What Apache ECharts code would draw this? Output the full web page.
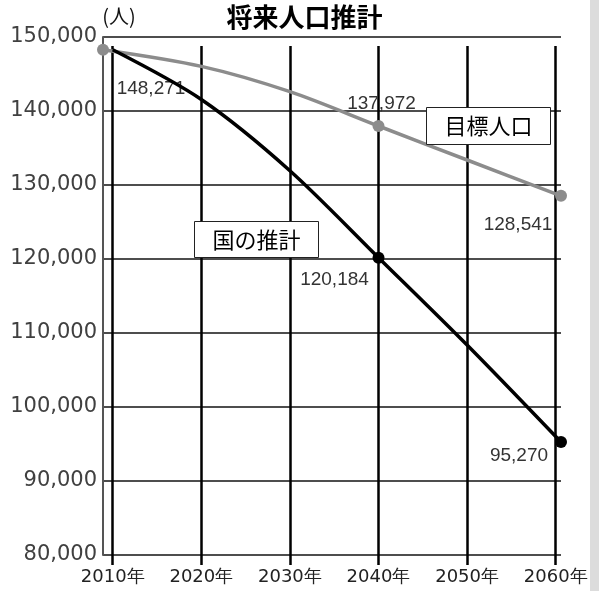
<!DOCTYPE html>
<html>
<head>
<meta charset="utf-8">
<script src="https://cdn.jsdelivr.net/npm/echarts@6/dist/echarts.min.js"></script>
<style>html,body{margin:0;padding:0;background:#fff}#c{width:599px;height:591px}</style>
</head>
<body>
<div id="c"></div>
<script>
const years = [2010, 2020, 2030, 2040, 2050, 2060];
const nationalX = [2010, 2020, 2030, 2040, 2050, 2060.6];
const nationalY = [148271, 141554, 131932, 120184, 108378, 95270];
const targetX = [2008.9, 2020, 2030, 2040, 2050, 2060.6];
const targetY = [148271, 146027, 142608, 137972, 133378, 128541];
const nationalMarked = [3, 5];
const targetMarked = [0, 3, 5];
const nationalLabels = {3: [-44, 22], 5: [-42, 14]};
const targetLabels = {0: [48, 39], 3: [3, -22], 5: [-43, 29]};
const titleText = '将来人口推計';
const unitText = '(人)';
const nationalName = '国の推計';
const targetName = '目標人口';

const fmt = v => v.toLocaleString('en-US');
const labelStyle = {fontFamily: 'Liberation Sans', fontSize: 19, color: '#333'};

function build(xs, ys, marked, labels) {
  return xs.map((x, i) => {
    const item = {value: [x, ys[i]]};
    if (!marked.includes(i)) item.symbol = 'none';
    if (labels[i]) {
      item.label = Object.assign({show: true, position: 'inside', offset: labels[i], formatter: p => fmt(p.value[1])}, labelStyle);
    }
    return item;
  });
}

const chart = echarts.init(document.getElementById('c'));
chart.setOption({
  animation: false,
  backgroundColor: '#fff',
  grid: {left: 103, right: 38, top: 37, bottom: 36},
  xAxis: [{
    type: 'value', min: 2008.9, max: 2060.6,
    axisLine: {show: false},
    splitLine: {show: false},
    axisLabel: {show: false},
    axisTick: {show: true, inside: true, length: 509, customValues: years, lineStyle: {color: '#000', width: 2.5}}
  }, {
    type: 'value', min: 2008.9, max: 2060.6, position: 'bottom',
    axisLine: {show: false},
    splitLine: {show: false},
    axisTick: {show: true, inside: false, length: 10, customValues: years, lineStyle: {color: '#000', width: 2.5}},
    axisLabel: {show: true, customValues: years, margin: 13, formatter: v => v + '年', fontFamily: 'DejaVu Sans', fontSize: 18, color: '#222'}
  }],
  yAxis: {
    type: 'value', min: 80000, max: 150000, interval: 10000,
    axisLine: {show: true, lineStyle: {color: '#555', width: 2}},
    axisTick: {show: false},
    splitLine: {show: true, lineStyle: {color: '#4d4d4d', width: 2}},
    axisLabel: {margin: 6, formatter: v => fmt(v), fontFamily: 'DejaVu Sans', fontSize: 21, color: '#404040'}
  },
  series: [{
    name: targetName, type: 'line', smooth: 0.3,
    data: build(targetX, targetY, targetMarked, targetLabels),
    symbol: 'circle', symbolSize: 12,
    lineStyle: {color: '#8c8c8c', width: 3.5},
    itemStyle: {color: '#8c8c8c'},
    z: 3
  }, {
    name: nationalName, type: 'line', smooth: 0.3,
    data: build(nationalX, nationalY, nationalMarked, nationalLabels),
    symbol: 'circle', symbolSize: 12,
    lineStyle: {color: '#000', width: 3.5},
    itemStyle: {color: '#000'},
    z: 4
  }],
  graphic: [
    {type: 'rect', x: 590, y: 0, shape: {width: 9, height: 591}, style: {fill: '#dcdcdc'}, silent: true},
    {type: 'text', x: 304.5, y: 17, style: {text: titleText, fontFamily: 'Noto Sans CJK JP', fontWeight: 'bold', fontSize: 26, fill: '#000', align: 'center', verticalAlign: 'middle'}},
    {type: 'text', x: 119, y: 16, style: {text: unitText, fontFamily: 'Noto Sans CJK JP', fontSize: 20, fill: '#111', align: 'center', verticalAlign: 'middle'}},
    {type: 'rect', x: 426.5, y: 107.5, shape: {width: 124, height: 37}, style: {fill: '#fff', stroke: '#222', lineWidth: 1}, z: 100},
    {type: 'text', x: 488.5, y: 126, style: {text: targetName, fontFamily: 'Noto Sans CJK JP', fontSize: 22, fill: '#000', align: 'center', verticalAlign: 'middle'}, z: 101},
    {type: 'rect', x: 194.5, y: 221.5, shape: {width: 124, height: 36}, style: {fill: '#fff', stroke: '#222', lineWidth: 1}, z: 100},
    {type: 'text', x: 256.5, y: 239.5, style: {text: nationalName, fontFamily: 'Noto Sans CJK JP', fontSize: 22, fill: '#000', align: 'center', verticalAlign: 'middle'}, z: 101}
  ]
});
</script>
</body>
</html>
